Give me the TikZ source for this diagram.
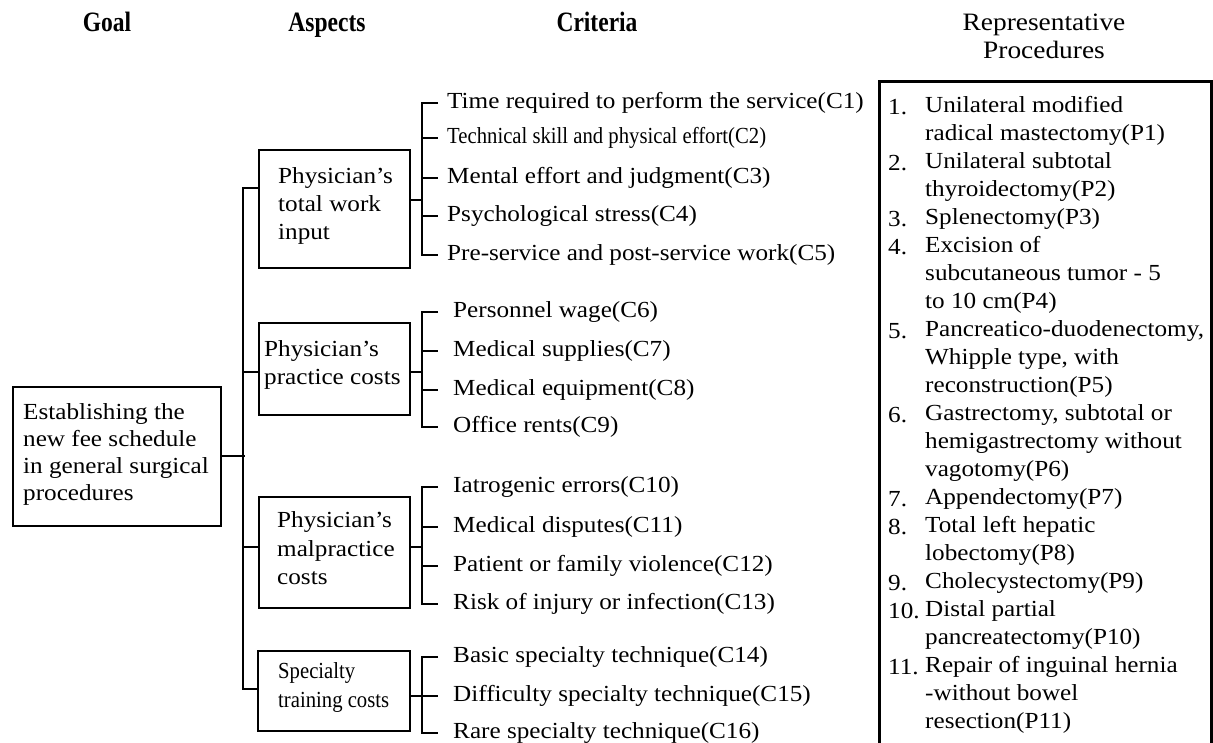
\documentclass[tikz,border=0pt]{standalone}
\usepackage{fontspec}
\setmainfont{Liberation Serif}
\newfontfamily\bt[FakeStretch=1.095]{Liberation Serif}
\newfontfamily\hd[FakeStretch=0.84]{Liberation Serif}
\newfontfamily\tn[FakeStretch=0.9]{Liberation Serif}
\begin{document}
\begin{tikzpicture}[x=1pt,y=-1pt,
  lw/.style={line width=2.8pt},
  box/.style={draw,lw,inner sep=0pt,rectangle},
  btxt/.style={font=\bt\fontsize{23}{28}\selectfont,inner sep=0pt,align=left,anchor=west},
  ttxt/.style={font=\tn\fontsize{23}{29}\selectfont,inner sep=0pt,align=left,anchor=west},
  crit/.style={btxt,inner xsep=15pt},
  critA/.style={btxt,inner xsep=9pt},
  hdr/.style={font=\hd\bfseries\fontsize{28}{30}\selectfont,inner sep=0pt,anchor=base},
  ptxt/.style={font=\bt\fontsize{23}{28}\selectfont,inner sep=0pt,anchor=base west}]
\useasboundingbox (0,0) rectangle (1213,743);
\clip (0,0) rectangle (1213,743);

% headers
\node[hdr] (hg) at (107,32) {Goal};
\node[hdr] (ha) at (327,32) {Aspects};
\node[hdr] (hc) at (597,32) {Criteria};
\node[font=\bt\fontsize{25}{28}\selectfont,inner sep=0pt,align=center] (hp) at (1044,36) {Representative\\Procedures};

% boxes
\node[box,minimum width=208,minimum height=139] (g) at (117,456.5) {};
\node[box,minimum width=151,minimum height=118] (a1) at (334.5,209) {};
\node[box,minimum width=151,minimum height=92] (a2) at (334.5,369) {};
\node[box,minimum width=151,minimum height=111] (a3) at (334.5,552.5) {};
\node[box,minimum width=152,minimum height=80] (a4) at (334,691) {};
\node[box,minimum width=332,minimum height=720,anchor=north west] (pb) at (878,80) {};

% box texts
\node[btxt,font=\bt\fontsize{23}{27}\selectfont] (gt) at (23,454) {Establishing the\\new fee schedule\\in general surgical\\procedures};
\node[btxt] (a1t) at (278,206) {Physician’s\\total work\\input};
\node[btxt] (a2t) at (264,365) {Physician’s\\practice costs};
\node[btxt,font=\bt\fontsize{23}{28.5}\selectfont] (a3t) at (277,548.5) {Physician’s\\malpractice\\costs};
\node[ttxt] (a4t) at (278,687.5) {Specialty\\training costs};

% spine
\coordinate (sp) at (243,456);
\coordinate (s1) at (243,188);
\coordinate (s2) at (243,372);
\coordinate (s3) at (243,547);
\coordinate (s4) at (243,689);
\draw[lw] (g.east |- sp) -- ([xshift=2pt]sp);
\draw[lw] (s1 -| a1.west) -- (s1) -- (s4) -- (s4 -| a4.west);
\draw[lw] (s2) -- (s2 -| a2.west);
\draw[lw] (s3) -- (s3 -| a3.west);

% criteria texts
\node[critA] (c1) at (438,103) {Time required to perform the service(C1)};
\node[critA,font=\tn\fontsize{23}{26}\selectfont] (c2) at (438,138) {Technical skill and physical effort(C2)};
\node[critA] (c3) at (438,178) {Mental effort and judgment(C3)};
\node[critA] (c4) at (438,216) {Psychological stress(C4)};
\node[critA] (c5) at (438,255) {Pre-service and post-service work(C5)};
\node[crit] (c6) at (438,312) {Personnel wage(C6)};
\node[crit] (c7) at (438,351) {Medical supplies(C7)};
\node[crit] (c8) at (438,390) {Medical equipment(C8)};
\node[crit] (c9) at (438,427) {Office rents(C9)};
\node[crit] (c10) at (438,487) {Iatrogenic errors(C10)};
\node[crit] (c11) at (438,527) {Medical disputes(C11)};
\node[crit] (c12) at (438,566) {Patient or family violence(C12)};
\node[crit] (c13) at (438,604) {Risk of injury or infection(C13)};
\node[crit] (c14) at (438,657) {Basic specialty technique(C14)};
\node[crit] (c15) at (438,696) {Difficulty specialty technique(C15)};
\node[crit] (c16) at (438,733) {Rare specialty technique(C16)};

% brackets
\coordinate (j1) at (422,200);
\coordinate (j2) at (422,372);
\coordinate (j3) at (422,547);
\coordinate (j4) at (422,696);
\draw[lw] (j1 -| a1.east) -- (j1);
\draw[lw] (j2 -| a2.east) -- (j2);
\draw[lw] (j3 -| a3.east) -- (j3);
\draw[lw] (j4 -| a4.east) -- (j4);
\draw[lw] (c1.west) -| (j1) |- (c5.west);
\foreach \c in {c2,c3,c4} \draw[lw] (j1 |- \c.west) -- (\c.west);
\draw[lw] (c6.west) -| (j2) |- (c9.west);
\foreach \c in {c7,c8} \draw[lw] (j2 |- \c.west) -- (\c.west);
\draw[lw] (c10.west) -| (j3) |- (c13.west);
\foreach \c in {c11,c12} \draw[lw] (j3 |- \c.west) -- (\c.west);
\draw[lw] (c14.west) -| (j4) |- (c16.west);
\draw[lw] (j4 |- c15.west) -- (c15.west);

% procedures
\foreach \k/\t in {0/{Unilateral modified},1/{radical mastectomy(P1)},2/{Unilateral subtotal},3/{thyroidectomy(P2)},4/{Splenectomy(P3)},5/{Excision of},6/{subcutaneous tumor - 5},7/{to 10 cm(P4)},8/{Pancreatico-duodenectomy,},9/{Whipple type, with},10/{reconstruction(P5)},11/{Gastrectomy, subtotal or},12/{hemigastrectomy without},13/{vagotomy(P6)},14/{Appendectomy(P7)},15/{Total left hepatic},16/{lobectomy(P8)},17/{Cholecystectomy(P9)},18/{Distal partial},19/{pancreatectomy(P10)},20/{Repair of inguinal hernia},21/{-without bowel},22/{resection(P11)}}
  \node[ptxt] (p\k) at (925,{112.5+28*\k}) {\t};
\foreach \k/\n in {0/1,2/2,4/3,5/4,8/5,11/6,14/7,15/8,17/9,18/10,20/11}
  \node[ptxt] (n\n) at (888,{114.5+28*\k}) {\n.};
\end{tikzpicture}
\end{document}
